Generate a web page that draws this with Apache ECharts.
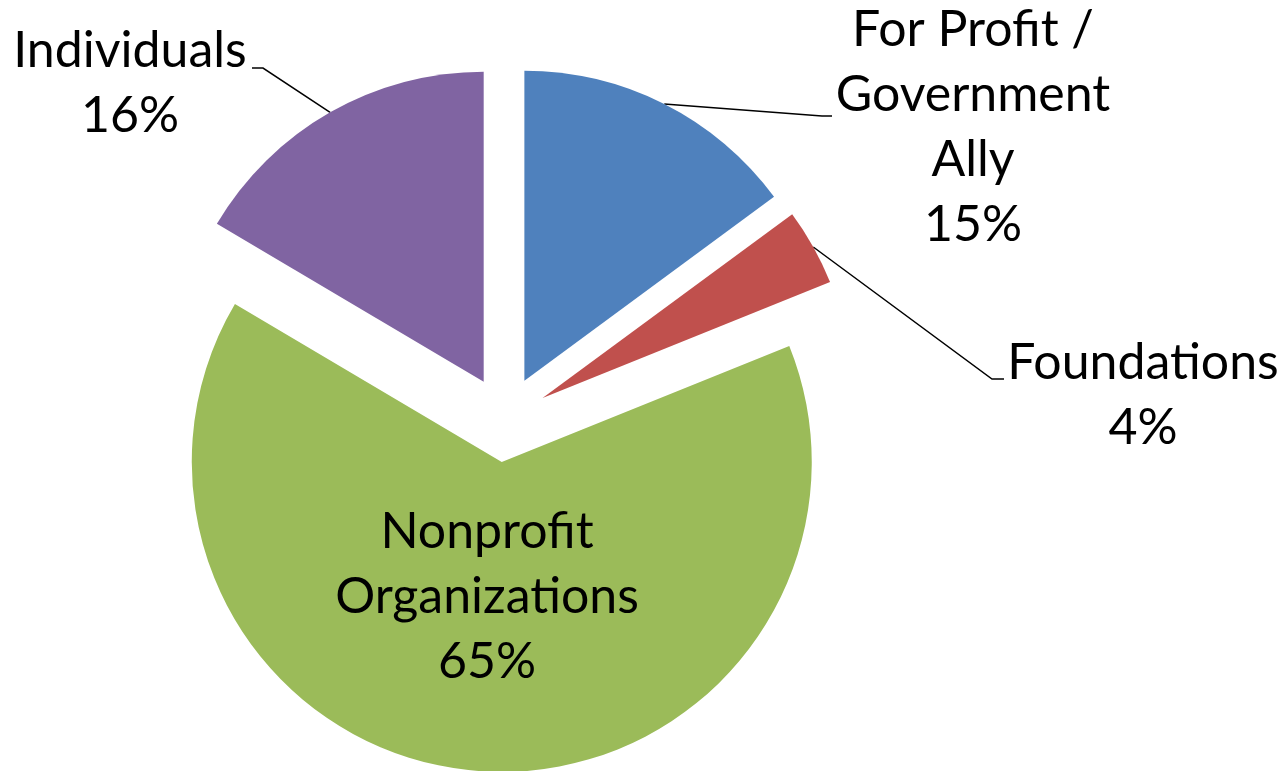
<!DOCTYPE html>
<html>
<head>
<meta charset="utf-8">
<title>Funding sources</title>
<script src="https://cdn.jsdelivr.net/npm/echarts@6/dist/echarts.min.js"></script>
<style>
  html, body { margin: 0; padding: 0; background: #fff; }
  #main { width: 1282px; height: 771px; }
</style>
</head>
<body>
<div id="main"></div>
<script>
// chart data
var categories = ['For Profit /\nGovernment\nAlly', 'Foundations', 'Nonprofit\nOrganizations', 'Individuals'];
var shares = [14.9, 4.0, 64.6, 16.5];

// office-style palette
var sliceColors = ['#4F81BD', '#C0504D', '#9BBB59', '#8064A2'];

// label block centres and leader line bends, page coords
var labelSpots = [
  { x: 973, y: 127, bend: [822, 116], end: [832, 116] },
  { x: 1143, y: 395, bend: [992, 379], end: [1004, 379] },
  { x: 487, y: 597 },
  { x: 130, y: 83, bend: [263, 68], end: [252, 68] }
];

var pieCenter = [505, 419];
var explode = 43;

// each slice is pulled out along its middle angle (clockwise from 12 o'clock)
var total = shares.reduce(function (a, b) { return a + b; }, 0);
var acc = 0;
var shifts = shares.map(function (v) {
  var mid = (acc + v / 2) / total * 2 * Math.PI;
  acc += v;
  return [Math.sin(mid) * explode, -Math.cos(mid) * explode];
});

var myChart = echarts.init(document.getElementById('main'));

// one pie per slice, same data, only its own slice painted -> exploded look
function slicePie(k) {
  return {
    type: 'pie',
    center: [pieCenter[0] + shifts[k][0], pieCenter[1] + shifts[k][1]],
    radius: 310,
    startAngle: 90,
    clockwise: true,
    silent: true,
    percentPrecision: 0,
    avoidLabelOverlap: false,
    itemStyle: { borderWidth: 0 },
    label: {
      position: k === 2 ? 'inside' : 'outside',
      formatter: '{b}\n{d}%',
      fontFamily: 'Lato',
      fontSize: 50,
      lineHeight: 65,
      color: '#000',
      align: 'center'
    },
    labelLine: { lineStyle: { color: '#000', width: 1.5 } },
    labelLayout: function (p) {
      var spot = labelSpots[p.dataIndex];
      var out = { x: spot.x, y: spot.y, align: 'center', verticalAlign: 'middle' };
      if (spot.bend && p.labelLinePoints) {
        out.labelLinePoints = [p.labelLinePoints[0], spot.bend, spot.end];
      }
      return out;
    },
    data: categories.map(function (name, i) {
      var mine = i === k;
      return {
        name: name,
        value: shares[i],
        itemStyle: { color: mine ? sliceColors[i] : 'rgba(0,0,0,0)' },
        label: { show: mine },
        labelLine: { show: mine && k !== 2 }
      };
    })
  };
}

var option = {
  animation: false,
  series: shares.map(function (v, k) { return slicePie(k); })
};

myChart.setOption(option);
window.onresize = function () { myChart.resize(); };
</script>
</body>
</html>
